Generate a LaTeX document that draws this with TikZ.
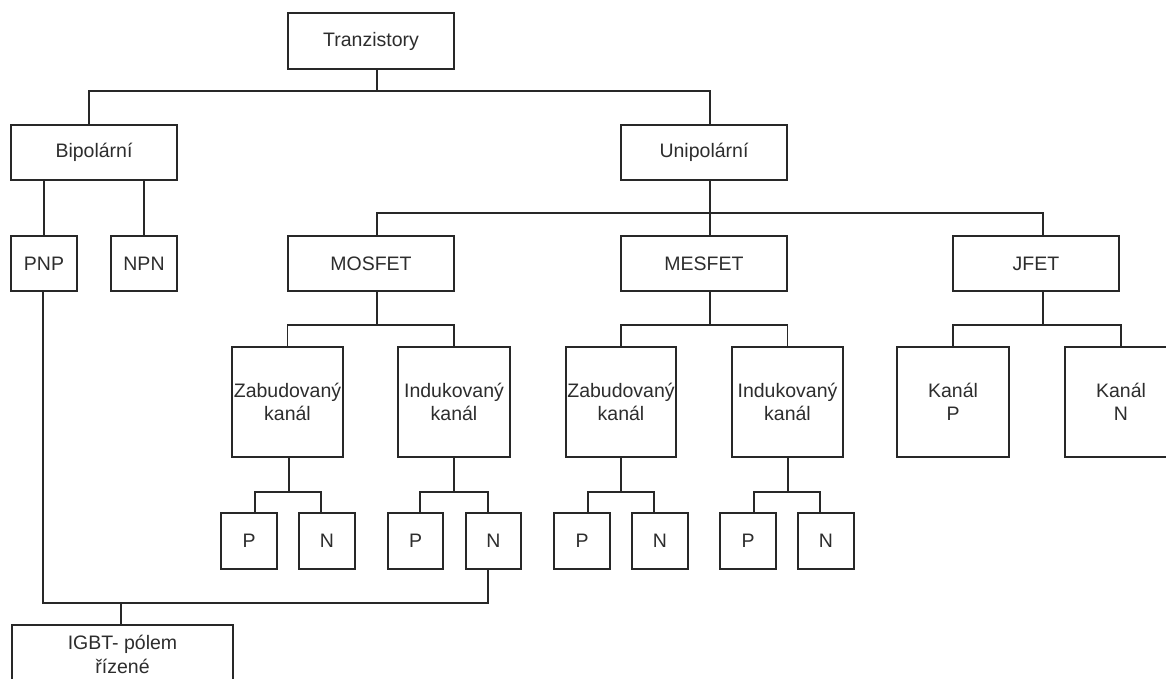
\documentclass[tikz,border=0pt]{standalone}
\usepackage{fontspec}
\setmainfont{Liberation Sans}
\definecolor{linegray}{RGB}{40,40,40}
\definecolor{textgray}{RGB}{45,45,45}
\begin{document}
\begin{tikzpicture}[x=1pt,y=-1pt,
  box/.style={draw=linegray, line width=1.3pt, rectangle, inner sep=0.5pt,
    align=center, text=textgray, font=\fontsize{19.5pt}{23.5pt}\selectfont},
  wide/.style={box, minimum width=166pt, minimum height=55pt},
  narrow/.style={box, minimum width=66pt, minimum height=55pt},
  tall/.style={box, minimum width=111pt, minimum height=110pt},
  leaf/.style={box, minimum width=56pt, minimum height=56pt},
  link/.style={draw=linegray, line width=1.3pt},
]
\fill[white] (0,0) rectangle (1166,678);
\useasboundingbox (0,0) rectangle (1166,678);
\clip (0,0) rectangle (1166,678);

% first two levels
\node[wide, minimum height=56pt] (tr) at (371,41) {Tranzistory};
\node[wide] (bip) at (94,152.5) {Bipolární};
\node[wide] (uni) at (704,152.5) {Unipolární};

% bipolar types
\node[narrow] (pnp) at (44,263.5) {PNP};
\node[narrow] (npn) at (144,263.5) {NPN};

% unipolar types
\node[wide] (mos) at (371,263.5) {MOSFET};
\node[wide] (mes) at (704,263.5) {MESFET};
\node[wide] (jfet) at (1036,263.5) {JFET};

% channel kinds
\node[tall] (zab1) at (287.5,402) {Zabudovaný\\kanál};
\node[tall, minimum width=112pt] (ind1) at (454,402) {Indukovaný\\kanál};
\node[tall, minimum width=110pt] (zab2) at (621,402) {Zabudovaný\\kanál};
\node[tall] (ind2) at (787.5,402) {Indukovaný\\kanál};
\node[tall, minimum width=112pt] (kp) at (953,402) {Kanál\\P};
\node[tall, minimum width=112pt] (kn) at (1121,402) {Kanál\\N};

% channel polarity
\node[leaf] (p1) at (249,541) {P};
\node[leaf] (n1) at (327,541) {N};
\node[leaf, minimum width=55pt] (p2) at (415.5,541) {P};
\node[leaf, minimum width=55pt] (n2) at (493.5,541) {N};
\node[leaf] (p3) at (582,541) {P};
\node[leaf] (n3) at (660,541) {N};
\node[leaf] (p4) at (748,541) {P};
\node[leaf] (n4) at (826,541) {N};

% combined device
\node[box, minimum width=221pt, minimum height=59pt] (igbt) at (122.5,654.5) {IGBT- pólem\\řízené};

% junction points of the buses
\coordinate (j0) at (377,91);
\coordinate (j1) at (710,213);
\coordinate (m1) at (377,325);
\coordinate (m2) at (710,325);
\coordinate (m3) at (1043,325);
\coordinate (z1) at (289,492);
\coordinate (z2) at (454,492);
\coordinate (z3) at (621,492);
\coordinate (z4) at (788,492);
\coordinate (g) at (121,603);

% connectors
\draw[link] (tr.south -| j0) -- (j0);
\draw[link] ([xshift=-5pt]bip.north) |- (j0) -| ([xshift=6pt]uni.north);

\draw[link] (pnp.north) -- (pnp.north |- bip.south);
\draw[link] (npn.north) -- (npn.north |- bip.south);

\draw[link] ([xshift=6pt]uni.south) -- ([xshift=6pt]mes.north);
\draw[link] ([xshift=6pt]mos.north) |- (j1) -| ([xshift=7pt]jfet.north);

\draw[link] (mos.south -| m1) -- (m1);
\draw[link] (zab1.north) |- (m1) -| (ind1.north);
\draw[link] (mes.south -| m2) -- (m2);
\draw[link] (zab2.north) |- (m2) -| (ind2.north);
\draw[link] (jfet.south -| m3) -- (m3);
\draw[link] (kp.north) |- (m3) -| (kn.north);

\draw[link] (zab1.south -| z1) -- (z1);
\draw[link] ([xshift=6pt]p1.north) |- (z1) -| ([xshift=-6pt]n1.north);
\draw[link] (ind1.south -| z2) -- (z2);
\draw[link] ([xshift=4.5pt]p2.north) |- (z2) -| ([xshift=-5.5pt]n2.north);
\draw[link] (zab2.south -| z3) -- (z3);
\draw[link] ([xshift=6pt]p3.north) |- (z3) -| ([xshift=-6pt]n3.north);
\draw[link] (ind2.south -| z4) -- (z4);
\draw[link] ([xshift=6pt]p4.north) |- (z4) -| ([xshift=-6pt]n4.north);

\draw[link] ([xshift=-1pt]pnp.south) |- (g) -| ([xshift=-5.5pt]n2.south);
\draw[link] (g) -- (igbt.north -| g);
\end{tikzpicture}
\end{document}
